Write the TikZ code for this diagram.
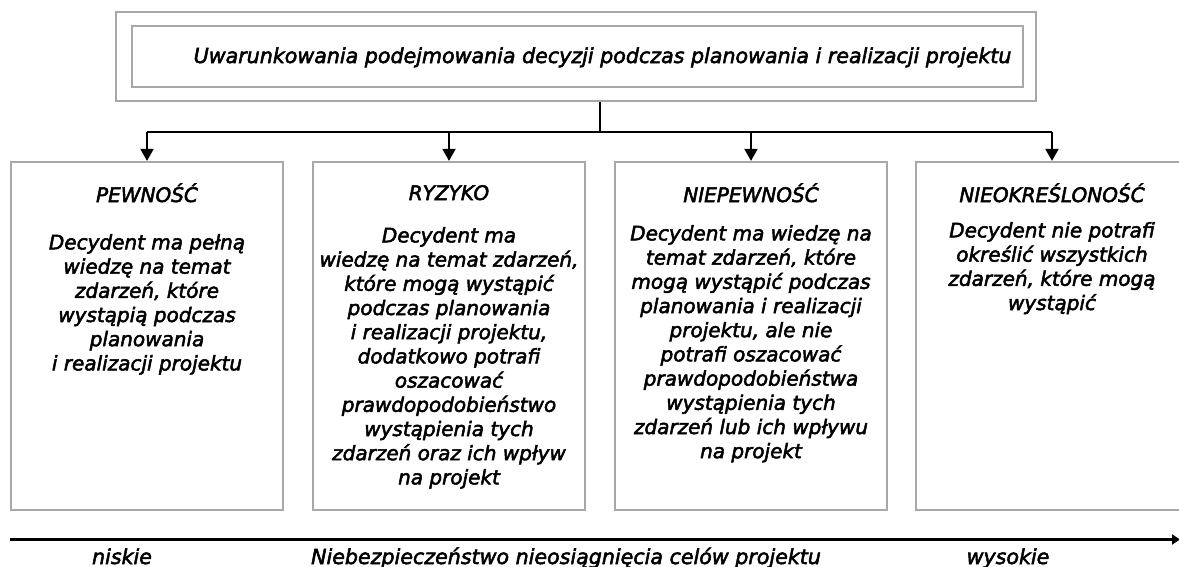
\documentclass[tikz,border=0pt]{standalone}
\usepackage{fontspec}
\setmainfont{DejaVu Sans}[ItalicFont={DejaVu Sans Oblique}, ItalicFeatures={FakeBold=2.5}]
\usetikzlibrary{arrows.meta}
\definecolor{framegray}{HTML}{A8A8A8}
\begin{document}
\begin{tikzpicture}[x=1pt,y=-1pt,
  txt/.style={font=\fontsize{20}{24.2}\selectfont\itshape, inner sep=0pt, align=center},
  bigtxt/.style={txt, font=\fontsize{20.6}{24.2}\selectfont\itshape},
  frame/.style={draw=framegray, line width=2.2pt, inner sep=0pt},
  stagebox/.style={frame, minimum width=272pt, minimum height=348pt},
  link/.style={line width=2pt, black},
  linkarrow/.style={link, -{Triangle[width=13pt,length=12pt]}},
  axis/.style={line width=2.2pt, black, -{Triangle[width=10pt,length=8pt]}}]
\useasboundingbox (0,0) rectangle (1179,566);
\clip (0,0) rectangle (1179,566);

% heading: double frame
\node[frame, line width=2.6pt, minimum width=920pt, minimum height=89pt] (outer) at (576,56.5) {};
\node[frame, minimum width=891pt, minimum height=61pt] (inner) at (577.5,56.5) {};
\node[bigtxt, anchor=base] (head) at (602.5,63)
  {Uwarunkowania podejmowania decyzji podczas planowania i realizacji projektu};

% the four kinds of decision conditions
\node[stagebox] (b1) at (147,336) {};
\node[stagebox] (b2) at (449,336) {};
\node[stagebox] (b3) at (751,336) {};
\node[stagebox] (b4) at (1052,336) {};

\node[txt, anchor=base] (t1) at (b1.center |- 0,202) {PEWNOŚĆ};
\node[txt, anchor=base] (t2) at (b2.center |- 0,200) {RYZYKO};
\node[txt, anchor=base] (t3) at (b3.center |- 0,202) {NIEPEWNOŚĆ};
\node[txt, anchor=base] (t4) at (b4.center |- 0,202) {NIEOKREŚLONOŚĆ};

\node[txt, anchor=north] (d1) at (b1.center |- 0,234) {Decydent ma pełną\\wiedzę na temat\\zdarzeń, które\\wystąpią podczas\\planowania\\i realizacji projektu};
\node[txt, anchor=north] (d2) at (b2.center |- 0,227) {Decydent ma\\wiedzę na temat zdarzeń,\\które mogą wystąpić\\podczas planowania\\i realizacji projektu,\\dodatkowo potrafi\\oszacować\\prawdopodobieństwo\\wystąpienia tych\\zdarzeń oraz ich wpływ\\na projekt};
\node[txt, anchor=north] (d3) at (b3.center |- 0,225) {Decydent ma wiedzę na\\temat zdarzeń, które\\mogą wystąpić podczas\\planowania i realizacji\\projektu, ale nie\\potrafi oszacować\\prawdopodobieństwa\\wystąpienia tych\\zdarzeń lub ich wpływu\\na projekt};
\node[txt, anchor=north] (d4) at (b4.center |- 0,222) {Decydent nie potrafi\\określić wszystkich\\zdarzeń, które mogą\\wystąpić};

% connectors from the heading to the four boxes
\coordinate (split) at (600,132);
\draw[link] (outer.south -| split) -- (split);
\draw[link] (b1.north |- split) -- (b4.north |- split);
\foreach \b in {b1,b2,b3,b4}
  \draw[linkarrow] (\b.north |- split) -- (\b.north);

% scale of the danger of not reaching the project goals
\coordinate (axL) at (10,539.5);
\coordinate (axR) at (1180,539.5);
\draw[axis] (axL) -- (axR);
\node[bigtxt, anchor=base] (low) at (122,564) {niskie};
\node[bigtxt, anchor=base] (mid) at (566,564) {Niebezpieczeństwo nieosiągnięcia celów projektu};
\node[bigtxt, anchor=base] (high) at (1008,564) {wysokie};
\end{tikzpicture}
\end{document}
